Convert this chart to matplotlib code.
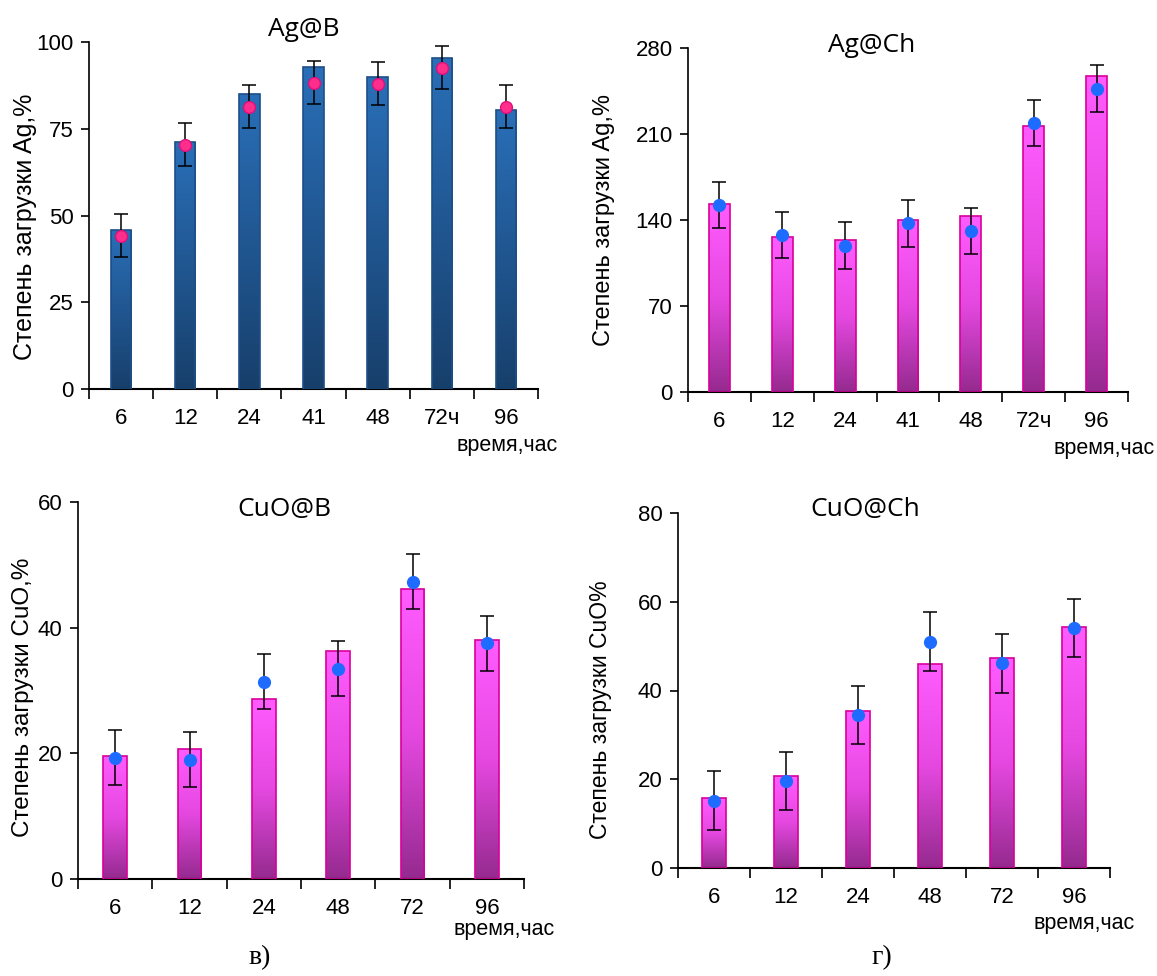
import numpy as np
import matplotlib
matplotlib.use("Agg")
import matplotlib.pyplot as plt
from matplotlib.colors import LinearSegmentedColormap

plt.rcParams['font.family'] = ['Liberation Sans', 'DejaVu Sans']

# --- data ---
cats_ag = ['6', '12', '24', '41', '48', '72ч', '96']
cats_cu = ['6', '12', '24', '48', '72', '96']

agb_bar = [45.9, 71.2, 84.9, 92.7, 89.8, 95.4, 80.3]
agb_pt = [44.1, 70.4, 81.3, 88.2, 88.0, 92.6, 81.4]
agb_err = [6.2, 6.2, 6.2, 6.2, 6.2, 6.2, 6.2]

agch_bar = [152.9, 125.8, 123.6, 140.4, 142.9, 216.2, 257.3]
agch_pt = [152.1, 127.7, 119.0, 137.2, 131.0, 218.9, 247.0]
agch_err = [19, 19, 19, 19, 19, 19, 19]

cub_bar = [19.6, 20.7, 28.7, 36.3, 46.2, 38.0]
cub_pt = [19.3, 19.0, 31.4, 33.5, 47.3, 37.5]
cub_err = [4.4, 4.4, 4.4, 4.4, 4.4, 4.4]

cuch_bar = [15.7, 20.7, 35.4, 45.9, 47.3, 54.3]
cuch_pt = [15.2, 19.6, 34.5, 51.0, 46.1, 54.1]
cuch_err = [6.6, 6.6, 6.6, 6.6, 6.6, 6.6]

blue_cmap = LinearSegmentedColormap.from_list('b', ['#173f6b', '#2a6fb8'])
pink_cmap = LinearSegmentedColormap.from_list('p', ['#952a8f', '#e548e0', '#ff5cff'])

W, H = 1157, 976
fig = plt.figure(figsize=(W / 100, H / 100), dpi=100)


def px_axes(l, t, r, b):
    return fig.add_axes([l / W, 1 - b / H, (r - l) / W, (b - t) / H])


def panel(ax, cats, bars, pts, err, ymax, step, title, ylabel, cmap, edge, mcol, medge, width, title_xy, ylsize):
    x = np.arange(len(cats))
    rects = ax.bar(x, bars, width=width, facecolor='none', edgecolor=edge, linewidth=1.2, zorder=3)
    grad = np.linspace(0, 1, 256).reshape(-1, 1)
    for r in rects:
        x0, y0 = r.get_x(), r.get_y()
        im = ax.imshow(grad, cmap=cmap, origin='lower', aspect='auto',
                       extent=[x0, x0 + r.get_width(), y0, y0 + r.get_height()], zorder=2)
        im.set_clip_path(r)
    ax.errorbar(x, pts, yerr=err, fmt='none', ecolor='black', elinewidth=1.1, capsize=5, capthick=1.1, zorder=4)
    ax.plot(x, pts, 'o', color=mcol, markeredgecolor=medge, markersize=8.5, zorder=5)
    ax.set_xlim(-0.5, len(cats) - 0.5)
    ax.set_ylim(0, ymax)
    ax.set_yticks(np.arange(0, ymax + 1, step))
    ax.set_xticks(x)
    ax.set_xticklabels(cats)
    ax.set_xticks(np.arange(-0.5, len(cats), 1), minor=True)
    ax.tick_params(axis='x', which='major', length=0, pad=14, labelsize=16)
    ax.tick_params(axis='x', which='minor', length=7, width=1.2, direction='out')
    ax.tick_params(axis='y', length=6, width=1.2, direction='out', labelsize=16, pad=5)
    for s in ['top', 'right']:
        ax.spines[s].set_visible(False)
    ax.spines['left'].set_linewidth(1.2)
    ax.spines['bottom'].set_linewidth(1.5)
    ax.set_ylabel(ylabel, fontsize=ylsize)
    ax.set_facecolor('none')
    fig.text(title_xy[0] / W, 1 - title_xy[1] / H, title, fontsize=19, family='Open Sans',
             ha='center', va='center')


ax1 = px_axes(89, 42, 538, 389)
panel(ax1, cats_ag, agb_bar, agb_pt, agb_err, 100, 25, 'Ag@B', 'Степень загрузки Ag,%',
      blue_cmap, '#1d4f86', '#ff2d8c', '#e0107a', 0.32, (304, 30), 18)
ax1.yaxis.set_label_coords(-0.116, 0.467)

ax2 = px_axes(688, 48, 1128, 392)
panel(ax2, cats_ag, agch_bar, agch_pt, agch_err, 280, 70, 'Ag@Ch', 'Степень загрузки Ag,%',
      pink_cmap, '#d8009a', '#1e6cff', '#1e6cff', 0.33, (872, 45), 17)
ax2.yaxis.set_label_coords(-0.166, 0.5)

ax3 = px_axes(78, 502, 524, 879)
panel(ax3, cats_cu, cub_bar, cub_pt, cub_err, 60, 20, 'CuO@B', 'Степень загрузки CuO,%',
      pink_cmap, '#d8009a', '#1e6cff', '#1e6cff', 0.32, (284, 510), 17.5)
ax3.yaxis.set_label_coords(-0.098, 0.483)

ax4 = px_axes(678, 513, 1110, 868)
panel(ax4, cats_cu, cuch_bar, cuch_pt, cuch_err, 80, 20, 'CuO@Ch', 'Степень загрузки CuO%',
      pink_cmap, '#d8009a', '#1e6cff', '#1e6cff', 0.32, (865, 510), 16.5)
ax4.yaxis.set_label_coords(-0.153, 0.445)

# x-axis captions
for xr, yc in [(558, 446), (1155, 448), (555, 929), (1135, 924)]:
    fig.text(xr / W, 1 - yc / H, 'время,час', fontsize=15.5, ha='right', va='center')

fig.text(260 / W, 1 - 958 / H, 'в)', fontsize=20, family='Liberation Serif', ha='center', va='center')
fig.text(882 / W, 1 - 958 / H, 'г)', fontsize=20, family='Liberation Serif', ha='center', va='center')

fig.savefig('out.png', dpi=100)
